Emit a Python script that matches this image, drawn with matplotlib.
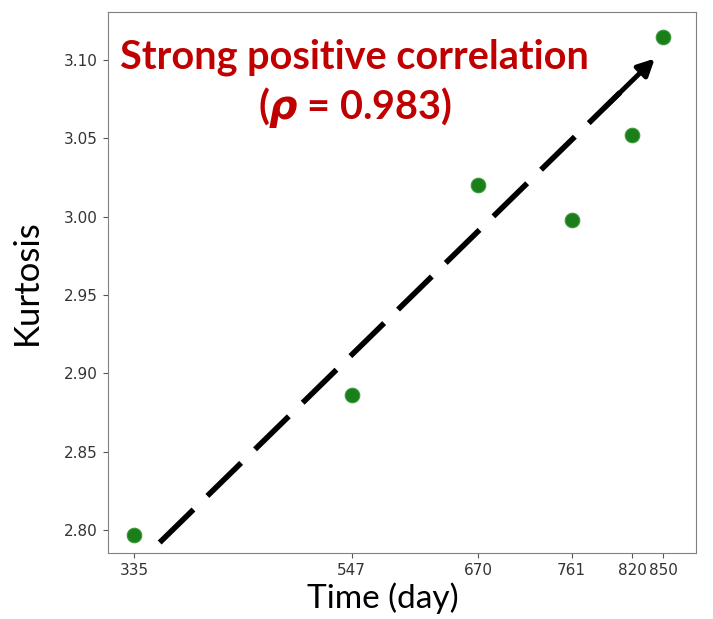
import matplotlib
matplotlib.use('Agg')
import matplotlib.pyplot as plt

# Données
days = [335, 547, 670, 761, 820, 850]
kurtosis = [2.797, 2.886, 3.020, 2.998, 3.052, 3.115]
yticks = [2.80, 2.85, 2.90, 2.95, 3.00, 3.05, 3.10]
rho = 0.983

fig = plt.figure(figsize=(7.13, 6.19), dpi=100)
ax = fig.add_axes([0.1515, 0.1066, 0.8245, 0.874])

ax.scatter(days, kurtosis, s=110, color='#1a7f1a', edgecolors='#3a9a3a', linewidths=0.8, zorder=3)
ax.set_xlim(309.7, 882)
ax.set_ylim(2.7853, 3.1307)

ax.set_xticks(days)
ax.set_xticklabels([str(d) for d in days])
ax.set_yticks(yticks)
ax.set_yticklabels([f'{v:.2f}' for v in yticks])
ax.tick_params(labelsize=11, labelcolor='#333333', color='#555555', pad=4)
for s in ax.spines.values():
    s.set_color('#808080')

ax.set_xlabel('Time (day)', fontsize=24, family='Lato')
ax.set_ylabel('Kurtosis', fontsize=25, family='Lato')
ax.xaxis.set_label_coords(0.467, -0.055)
ax.yaxis.set_label_coords(-0.11, 0.5)

# Flèche pointillée
x0, y0 = 360, 2.792
x1, y1 = 842, 3.101
ax.plot([x0, x0 + 0.93 * (x1 - x0)], [y0, y0 + 0.93 * (y1 - y0)],
        color='black', lw=4, linestyle=(0, (8.5, 3.5)), solid_capstyle='butt',
        scalex=False, scaley=False)
ax.annotate('', xy=(x1, y1), xytext=(x0 + 0.9 * (x1 - x0), y0 + 0.9 * (y1 - y0)),
            arrowprops=dict(arrowstyle='-|>,head_length=1.0,head_width=0.5',
                            color='black', lw=3.5, shrinkA=0, shrinkB=0))

ax.text(0.42, 0.917, 'Strong positive correlation', transform=ax.transAxes,
        ha='center', va='center', color='#C00000', fontsize=28.5,
        fontweight='bold', family='Lato')
ax.text(0.42, 0.824, r'($\boldsymbol{\rho}$ = %.3f)' % rho, transform=ax.transAxes,
        ha='center', va='center', color='#C00000', fontsize=28.5,
        fontweight='bold', family='Lato')

plt.savefig('out.png', dpi=100)
